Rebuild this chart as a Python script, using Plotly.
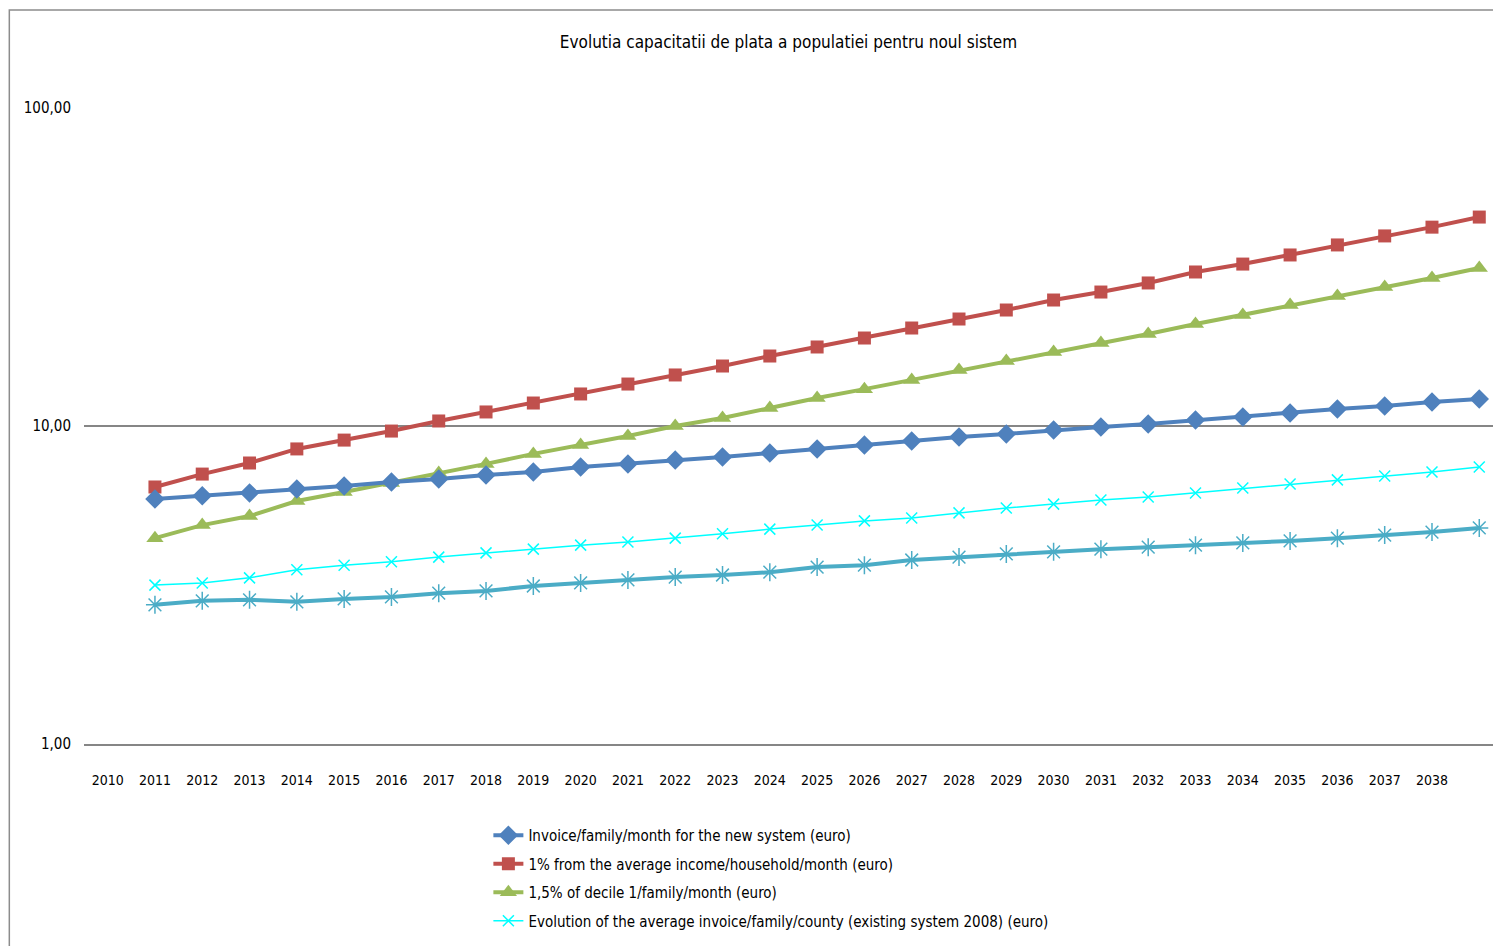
import plotly.graph_objects as go

# years of the data points and the year labels printed under the axis
years = list(range(2011, 2040))
tick_years = list(range(2010, 2039))

invoice_new = [5.89, 6.03, 6.16, 6.34, 6.48, 6.67, 6.81, 7.01, 7.17, 7.43, 7.60, 7.82, 7.99, 8.22, 8.47,
               8.71, 8.97, 9.23, 9.44, 9.71, 9.93, 10.15, 10.44, 10.67, 10.98, 11.31, 11.56, 11.90, 12.16]
income_1pct = [6.43, 7.06, 7.65, 8.47, 9.03, 9.64, 10.37, 11.07, 11.81, 12.61, 13.55, 14.47, 15.44, 16.60, 17.72,
               18.91, 20.33, 21.70, 23.16, 24.90, 26.38, 28.17, 30.50, 32.30, 34.50, 37.10, 39.60, 42.20, 45.40]
decile_15pct = [4.44, 4.88, 5.21, 5.81, 6.20, 6.62, 7.12, 7.60, 8.17, 8.71, 9.30, 10.00, 10.60, 11.39, 12.25,
                13.06, 13.95, 15.00, 16.00, 17.09, 18.24, 19.46, 20.93, 22.34, 24.02, 25.63, 27.35, 29.19, 31.39]
avg_invoice_2008 = [3.16, 3.21, 3.33, 3.53, 3.65, 3.74, 3.87, 3.99, 4.10, 4.22, 4.32, 4.44, 4.58, 4.74, 4.88,
                    5.03, 5.14, 5.33, 5.52, 5.68, 5.85, 5.98, 6.16, 6.38, 6.57, 6.77, 6.96, 7.17, 7.43]
existing_invoice = [2.74, 2.82, 2.84, 2.80, 2.86, 2.90, 2.98, 3.03, 3.14, 3.21, 3.28, 3.35, 3.40, 3.47, 3.60,
                    3.65, 3.79, 3.87, 3.96, 4.02, 4.10, 4.16, 4.22, 4.29, 4.35, 4.44, 4.54, 4.64, 4.78]

y_ticks = [1, 10, 100]
y_tick_text = ['1,00', '10,00', '100,00']

font_name = 'DejaVu Sans Condensed, Liberation Sans Narrow, Roboto, sans-serif'

fig = go.Figure()

# teal series drawn first (no visible legend entry in the original)
fig.add_trace(go.Scatter(x=years, y=existing_invoice, mode='lines+markers', showlegend=False,
                         name='Invoice/family/month existing system (euro)', legendgroup='e', legendrank=5,
                         line=dict(color='#4BACC6', width=4),
                         marker=dict(symbol='asterisk-open', size=15, line=dict(color='#4BACC6', width=1.5))))
fig.add_trace(go.Scatter(x=years, y=avg_invoice_2008, mode='lines+markers', legendgroup='d', legendrank=4,
                         name='Evolution of the average invoice/family/county (existing system 2008) (euro)',
                         line=dict(color='#00FFFF', width=1.5),
                         marker=dict(symbol='x-thin-open', size=11, line=dict(color='#00FFFF', width=1.5))))
fig.add_trace(go.Scatter(x=years, y=decile_15pct, mode='lines+markers', legendgroup='c', legendrank=3,
                         name='1,5% of decile 1/family/month (euro)',
                         line=dict(color='#9BBB59', width=4),
                         marker=dict(symbol='triangle-up', size=15, color='#9BBB59')))
fig.add_trace(go.Scatter(x=years, y=income_1pct, mode='lines+markers', legendgroup='b', legendrank=2,
                         name='1% from the average income/household/month (euro)',
                         line=dict(color='#C0504D', width=4),
                         marker=dict(symbol='square', size=13, color='#C0504D')))
fig.add_trace(go.Scatter(x=years, y=invoice_new, mode='lines+markers', legendgroup='a', legendrank=1,
                         name='Invoice/family/month for the new system (euro)',
                         line=dict(color='#4F81BD', width=4),
                         marker=dict(symbol='diamond', size=15, color='#4F81BD')))

# outer chart border (runs off the right and bottom edge like the original)
fig.add_shape(type='rect', xref='paper', yref='paper', x0=-0.053, x1=1.2, y0=-0.5, y1=1.154,
              line=dict(color='#8C8C8C', width=1.5), layer='below')

# the page body adds an 8px offset, so the figure is kept inside the window
fig.update_layout(
    width=1485, height=938,
    margin=dict(l=76, r=0, t=100, b=202),
    paper_bgcolor='white', plot_bgcolor='white',
    font=dict(family=font_name, color='#000000', size=15),
    title=dict(text='Evolutia capacitatii de plata a populatiei pentru noul sistem',
               x=0.5, xref='paper', y=1 - 34 / 938, yanchor='middle',
               font=dict(family=font_name, size=17, color='#000000')),
    legend=dict(x=0.287, y=-0.118, xanchor='left', yanchor='top', traceorder='grouped',
                font=dict(family=font_name, size=15), itemwidth=30, tracegroupgap=6,
                bgcolor='rgba(0,0,0,0)'),
    showlegend=True,
)

fig.update_xaxes(range=[2009.5, 2039.29], tickmode='array', tickvals=tick_years,
                 ticktext=[str(v) for v in tick_years], showgrid=False, zeroline=False,
                 showline=True, linecolor='#868686', linewidth=2, ticks='',
                 ticklabelstandoff=22, tickfont=dict(size=14))
fig.update_yaxes(type='log', range=[0, 2], tickmode='array', tickvals=y_ticks, ticktext=y_tick_text,
                 showgrid=True, gridcolor='#868686', gridwidth=2, zeroline=False, showline=False,
                 ticks='', ticklabelstandoff=12, tickfont=dict(size=15))

fig.write_html('out.html')
